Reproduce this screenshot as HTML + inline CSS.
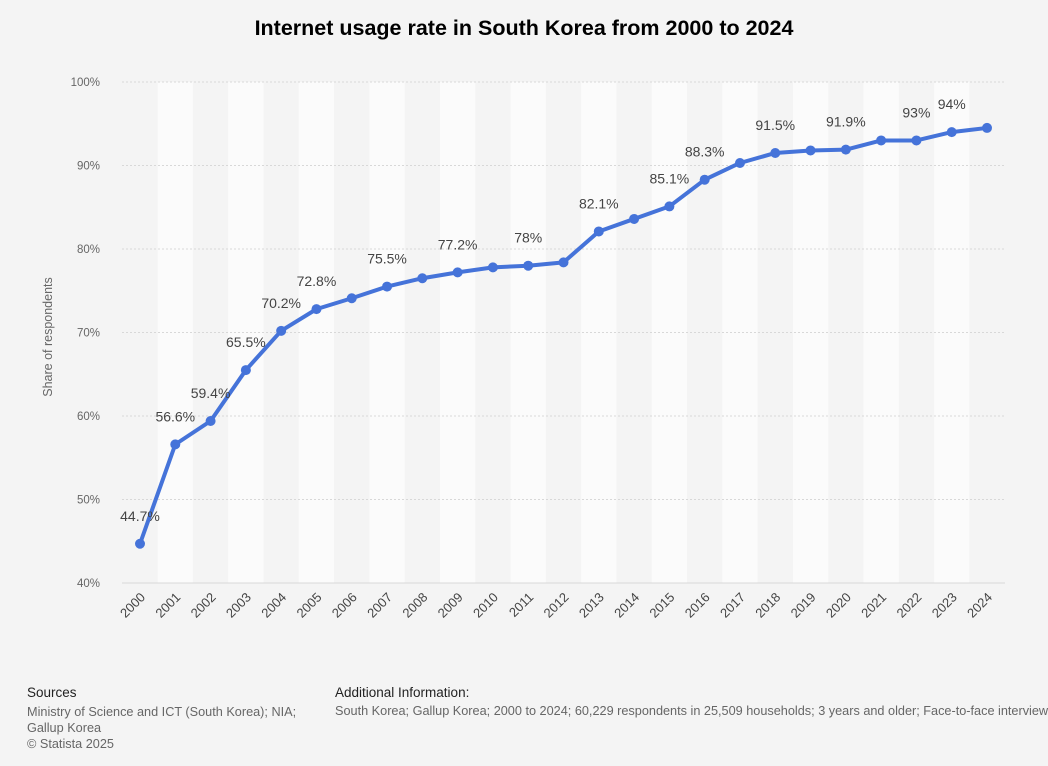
<!DOCTYPE html>
<html><head><meta charset="utf-8"><style>
body{margin:0;background:#f4f4f4;font-family:"Liberation Sans",Arial,sans-serif;}
#wrap{position:relative;width:1048px;height:766px;overflow:hidden;}
.t{position:absolute;white-space:nowrap;}
</style></head><body>
<div id="wrap">
<div class="t" style="left:0;width:1048px;text-align:center;top:16px;font-size:21.5px;font-weight:bold;color:#000;">Internet usage rate in South Korea from 2000 to 2024</div>
<svg id="chart" width="1048" height="680" style="position:absolute;left:0;top:0"></svg>
<div class="t" style="left:27px;top:685px;font-size:13.5px;color:#222;">Sources</div>
<div class="t" style="left:27px;top:704px;font-size:12.7px;color:#666;line-height:16px;">Ministry of Science and ICT (South Korea); NIA;<br>Gallup Korea<br>© Statista 2025</div>
<div class="t" style="left:335px;top:685px;font-size:13.5px;color:#222;">Additional Information:</div>
<div class="t" style="left:335px;top:704px;font-size:12.7px;color:#666;">South Korea; Gallup Korea; 2000 to 2024; 60,229 respondents in 25,509 households; 3 years and older; Face-to-face interview</div>
</div>
<script>
const years=["2000","2001","2002","2003","2004","2005","2006","2007","2008","2009","2010","2011","2012","2013","2014","2015","2016","2017","2018","2019","2020","2021","2022","2023","2024"];
const values=[44.7,56.6,59.4,65.5,70.2,72.8,74.1,75.5,76.5,77.2,77.8,78,78.4,82.1,83.6,85.1,88.3,90.3,91.5,91.8,91.9,93,93,94,94.5];
const labels=["44.7%","56.6%","59.4%","65.5%","70.2%","72.8%","","75.5%","","77.2%","","78%","","82.1%","","85.1%","88.3%","","91.5%","","91.9%","","93%","94%",""];
const yTicks=[40,50,60,70,80,90,100];
const NS="http://www.w3.org/2000/svg";
const svg=document.getElementById('chart');
const x0=140,step=(987-140)/24;
const X=i=>x0+i*step;
const Y=v=>583-(v-40)*(583-82)/60;
function mk(t,a){const e=document.createElementNS(NS,t);for(const k in a)e.setAttribute(k,a[k]);svg.appendChild(e);return e;}
years.forEach((y,i)=>{if(i%2===1){const r=mk('rect',{x:X(i)-step/2,y:82,width:step,height:501,fill:'#fbfbfb'});

}});
yTicks.forEach(t=>{const l=mk('line',{x1:122,x2:1005,y1:Y(t),y2:Y(t),stroke:'#d8d8d8','stroke-dasharray':t===40?'':'2,2'});


const tx=mk('text',{x:100,y:Y(t)+4,'text-anchor':'end','font-size':11.5,fill:'#666'});tx.textContent=t+'%';

});
const yt=mk('text',{x:52,y:337,'text-anchor':'middle','font-size':12.5,fill:'#666',transform:'rotate(-90 52 337)'});yt.textContent='Share of respondents';


years.forEach((y,i)=>{const tx=mk('text',{x:X(i)+6,y:598,'text-anchor':'end','font-size':13,fill:'#444',transform:`rotate(-45 ${X(i)+6} 598)`});tx.textContent=y;

});
const pl=mk('polyline',{points:values.map((v,i)=>X(i)+','+Y(v)).join(' '),fill:'none',stroke:'#4573d9','stroke-width':4,'stroke-linejoin':'round'});


values.forEach((v,i)=>{const c=mk('circle',{cx:X(i),cy:Y(v),r:5,fill:'#4573d9'});


if(labels[i]){const tx=mk('text',{x:X(i),y:Y(v)-23,'text-anchor':'middle','font-size':14,fill:'#444'});tx.textContent=labels[i];

}});
</script>
</body></html>
